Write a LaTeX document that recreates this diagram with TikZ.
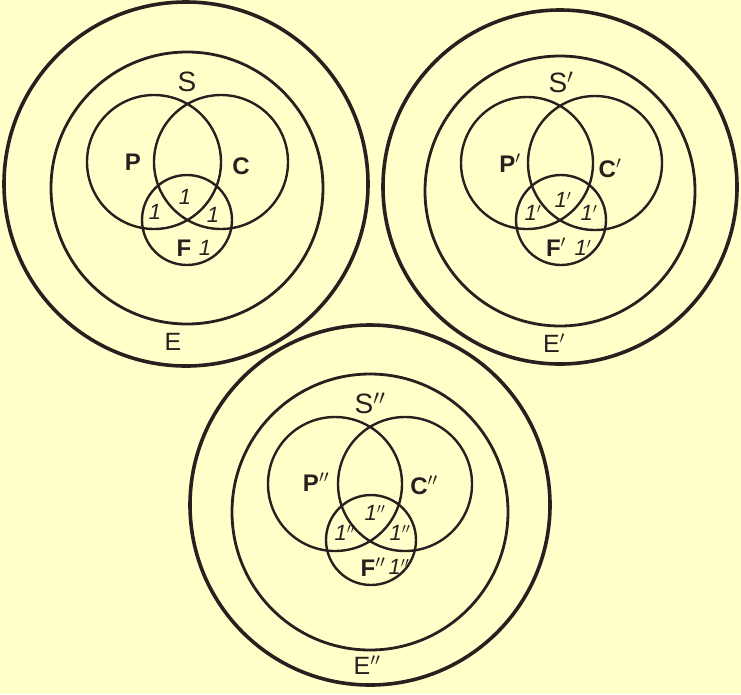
\documentclass[tikz,border=0pt]{standalone}
\usepackage{fontspec}
\setmainfont{Liberation Sans}
\definecolor{paper}{RGB}{255,255,202}
\definecolor{ink}{RGB}{38,32,30}
\tikzset{
  outerring/.style={draw=ink,line width=3.6pt},
  innerring/.style={draw=ink,line width=2.8pt},
  setring/.style={draw=ink,line width=2.4pt},
  biglab/.style={text=ink,inner sep=0pt,font=\fontsize{28}{28}\selectfont},
  elab/.style={text=ink,inner sep=0pt,font=\fontsize{25}{25}\selectfont},
  boldlab/.style={text=ink,inner sep=0pt,font=\fontsize{24}{24}\selectfont\bfseries},
  onelab/.style={text=ink,inner sep=0pt,font=\fontsize{22}{22}\selectfont\itshape},
}
\begin{document}
\begin{tikzpicture}[x=1pt,y=-1pt]
\useasboundingbox[fill=paper] (0,0) rectangle (741,694);
% ---------- top left ----------
\draw[outerring] (186,184) circle (182pt);
\draw[innerring] (187,188) circle (136pt);
\draw[setring] (154,162) circle (67pt);
\draw[setring] (221,162) circle (67pt);
\draw[setring] (187,220) circle (45pt);
\node[biglab] (s1) at (187,82) {S};
\node[boldlab] (p1) at (133,162) {P};
\node[boldlab] (c1) at (241,166) {C};
\node[onelab] (a1) at (185,197) {1};
\node[onelab] (b1) at (155,212) {1};
\node[onelab] (d1) at (213,215) {1};
\node[boldlab] (f1) at (184,248) {F};
\node[onelab] (g1) at (205,248) {1};
\node[elab] (e1) at (173,342) {E};
% ---------- top right ----------
\draw[outerring] (560,187) circle (177pt);
\draw[innerring] (560,191) circle (135pt);
\draw[setring] (527,163) circle (66pt);
\draw[setring] (595,163) circle (67pt);
\draw[setring] (561,220) circle (45pt);
\node[biglab] (s2) at (561,82) {S$'$};
\node[boldlab] (p2) at (510,163) {P$'$};
\node[boldlab] (c2) at (610,168) {C$'$};
\node[onelab] (a2) at (563,200) {1$'$};
\node[onelab] (b2) at (533,213) {1$'$};
\node[onelab] (d2) at (589,213) {1$'$};
\node[boldlab] (f2) at (556,247) {F$'$};
\node[onelab] (g2) at (583,248) {1$'$};
\node[elab] (e2) at (554,343) {E$'$};
% ---------- bottom ----------
\draw[outerring] (370,505) circle (180pt);
\draw[innerring] (370,512) circle (138pt);
\draw[setring] (335,484) circle (67pt);
\draw[setring] (405,484) circle (67pt);
\draw[setring] (371,540) circle (45pt);
\node[biglab] (s3) at (370,403) {S$''$};
\node[boldlab] (p3) at (316,482) {P$''$};
\node[boldlab] (c3) at (424,485) {C$''$};
\node[onelab] (a3) at (375,513) {1$''$};
\node[onelab] (b3) at (345,533) {1$''$};
\node[onelab] (d3) at (400,533) {1$''$};
\node[boldlab] (f3) at (373,567) {F$''$};
\node[onelab] (g3) at (399,567) {1$''$};
\node[elab] (e3) at (367,665) {E$''$};
\end{tikzpicture}
\end{document}
